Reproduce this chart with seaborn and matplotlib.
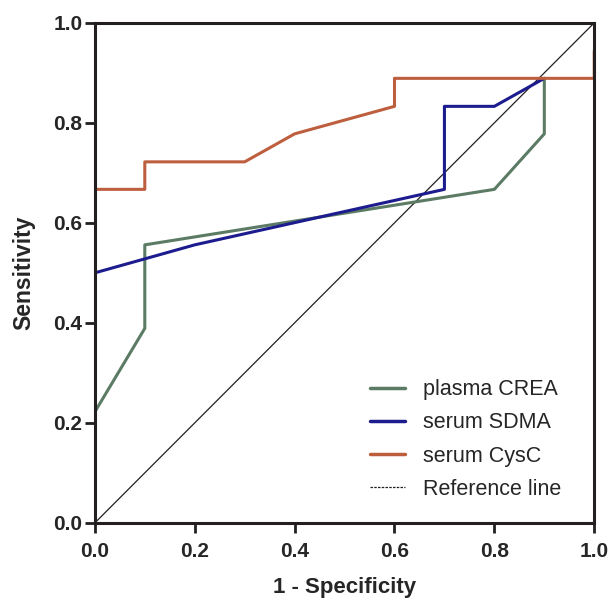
import numpy as np
import pandas as pd
import seaborn as sns
from matplotlib import pyplot as plt
from matplotlib.lines import Line2D

# ROC curve points
crea_fpr = [0.0, 0.1, 0.1, 0.8, 0.9, 0.9]
crea_tpr = [0.222, 0.389, 0.556, 0.667, 0.778, 0.889]
sdma_fpr = [0.0, 0.2, 0.7, 0.7, 0.8, 0.9]
sdma_tpr = [0.5, 0.556, 0.667, 0.833, 0.833, 0.889]
cysc_fpr = [0.0, 0.0, 0.1, 0.1, 0.3, 0.4, 0.6, 0.6, 1.0, 1.0]
cysc_tpr = [0.056, 0.667, 0.667, 0.722, 0.722, 0.778, 0.833, 0.889, 0.889, 0.944]
ref_x = [0.0, 1.0]
ref_y = [0.0, 1.0]

names = ['plasma CREA', 'serum SDMA', 'serum CysC']
palette = {'plasma CREA': '#5b7b65', 'serum SDMA': '#1c1c8f', 'serum CysC': '#bd5f3e'}

frames = []
for name, fx, fy in zip(names, [crea_fpr, sdma_fpr, cysc_fpr], [crea_tpr, sdma_tpr, cysc_tpr]):
    df = pd.DataFrame({'fpr': fx, 'tpr': fy, 'marker': name})
    frames.append(df)
data = pd.concat(frames, ignore_index=True)

sns.set_style('white')
plt.rcParams['font.family'] = ['Liberation Sans', 'DejaVu Sans']

fig = plt.figure(figsize=(6.12, 6.01), dpi=100)
ax = fig.add_axes([0.155, 0.130, 0.816, 0.832])

ax.plot(ref_x, ref_y, color='#231f20', lw=0.9, zorder=1)
for name in names:
    sub = data[data['marker'] == name]
    sns.lineplot(x='fpr', y='tpr', data=sub, sort=False, estimator=None,
                 color=palette[name], lw=2.2, ax=ax, zorder=2)

ticks = np.arange(0, 1.01, 0.2)
ax.set_xlim(0, 1)
ax.set_ylim(0, 1)
ax.set_xticks(ticks)
ax.set_yticks(ticks)
ax.set_xticklabels(['{:.1f}'.format(v) for v in ticks], fontweight='bold', fontsize=15)
ax.set_yticklabels(['{:.1f}'.format(v) for v in ticks], fontweight='bold', fontsize=15)
ax.set_xlabel('1 - Specificity', fontweight='bold', fontsize=16, labelpad=11)
ax.set_ylabel('Sensitivity', fontweight='bold', fontsize=16.5, labelpad=13)
for s in ax.spines.values():
    s.set_linewidth(2.2)
    s.set_color('#231f20')
ax.tick_params(axis='both', which='major', bottom=True, left=True, length=7, width=2,
               color='#231f20', direction='out', pad=2)
ax.tick_params(axis='x', pad=7)

handles = [Line2D([], [], color=palette[n], lw=2.5) for n in names]
handles.append(Line2D([], [], color='#231f20', lw=0.9, ls=(0, (2, 1))))
ax.legend(handles, names + ['Reference line'], loc='lower right', frameon=False,
          fontsize=15.5, handlelength=1.6, handletextpad=0.85, labelspacing=0.57,
          bbox_to_anchor=(0.96, 0.02), borderaxespad=0.2)

fig.savefig('out.png', dpi=100)
